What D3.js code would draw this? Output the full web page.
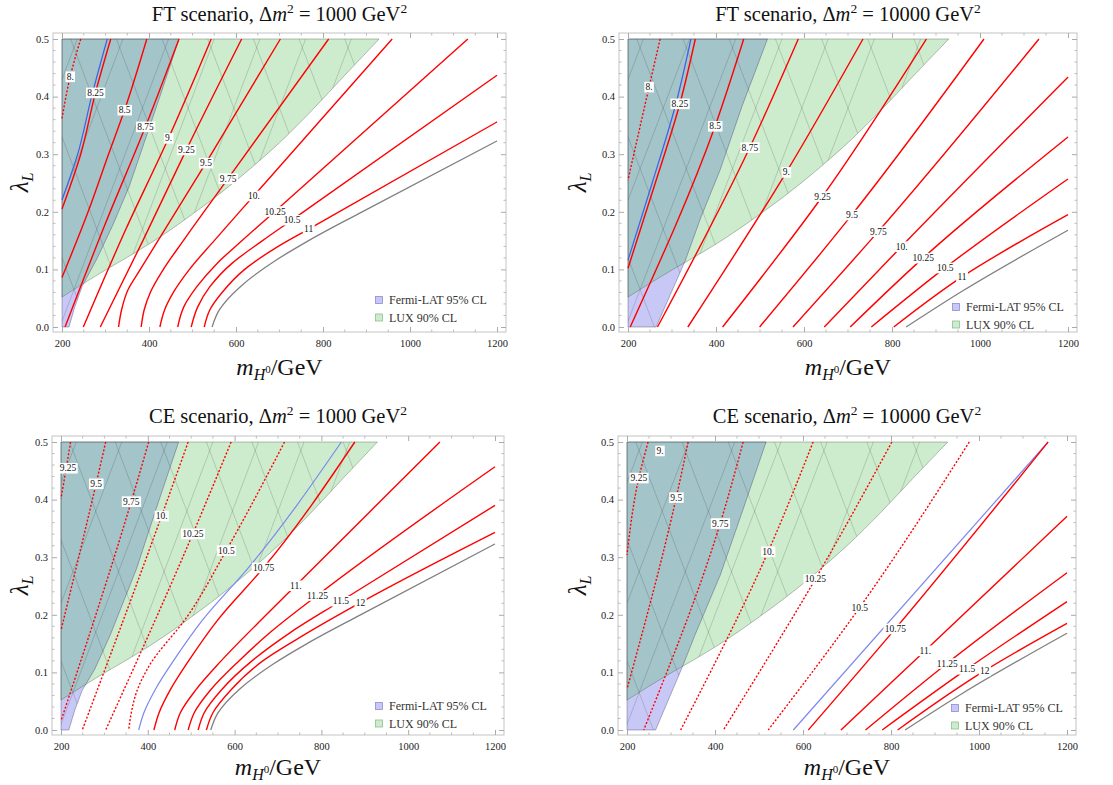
<!DOCTYPE html>
<html>
<head>
<meta charset="utf-8">
<script src="https://cdn.jsdelivr.net/npm/d3@7"></script>
<style>
  body { margin: 0; background: #fff; }
  svg { display: block; }
  text { font-family: "Liberation Serif", "DejaVu Serif", serif; }
</style>
</head>
<body>
<div id="chart"></div>
<script>
// ---- data ----
const xTicks = [200, 400, 600, 800, 1000, 1200]
const yTicks = [0, 0.1, 0.2, 0.3, 0.4, 0.5]
const legendNames = ['Fermi-LAT 95% CL', 'LUX 90% CL']

// LUX lower edge, from the left axis up to the top right corner
const luxBoundary = [[200, .052], [250, .076], [300, .099], [350, .121], [400, .144], [450, .169],
  [500, .196], [550, .224], [600, .254], [650, .286], [700, .32], [777, .378], [850, .437], [929, .5]]

// Fermi-LAT right edge, top to bottom
const fermiFT1000 = [[469, .5], [425, .4], [389, .32], [354, .243], [318, .179], [282, .121], [246, .07], [229, .034], [216, 0]]
const fermiFT10000 = [[517, .5], [459, .383], [409, .272], [366, .191], [330, .115], [264, 0]]
const fermiCE1000 = [[471, .5], [425, .397], [374, .28], [313, .164], [278, .106], [249, .069], [232, .035], [218, 0]]
const fermiCE10000 = [[516, .5], [462, .379], [412, .269], [354, .164], [325, .108], [265, 0]]

// hatch lines of the excluded regions (m at lambda = 0)
const meshUp = [-330, -225, -120, -15, 90, 195, 300, 405, 510, 615, 720, 825]
const meshDown = [260, 365, 470, 575, 680, 785, 890, 995, 1100, 1205, 1310, 1415]
const meshSlope = 500

const greyLow = [[545, 0], [562, .03], [610, .07], [690, .115], [767, .15], [890, .2], [1200, .323]]
const greyHigh = [[832, 0], [961, .063], [1200, .168]]

const ftLow = [
  { lab: '8.', kind: 'dot', at: [219, .435], pts: [[200, .362], [219, .435], [243, .5]] },
  { kind: 'blue', pts: [[200, .221], [236, .3], [268, .4], [304, .5]] },
  { lab: '8.25', kind: 'red', at: [277, .407], pts: [[200, .205], [243, .3], [277, .407], [312, .5]] },
  { lab: '8.5', kind: 'red', at: [344, .377], pts: [[200, .086], [260, .2], [307, .3], [344, .377], [395, .5]] },
  { lab: '8.75', kind: 'red', at: [392, .348], pts: [[207, 0], [300, .18], [392, .348], [469, .5]] },
  { lab: '9.', kind: 'red', at: [445, .328], pts: [[249, 0], [347, .17], [445, .328], [543, .5]] },
  { lab: '9.25', kind: 'red', at: [486, .308], pts: [[288, 0], [386, .15], [486, .308], [613, .5]] },
  { lab: '9.5', kind: 'red', at: [531, .285], pts: [[330, 0], [337, .03], [352, .065], [380, .1], [531, .285], [702, .5]] },
  { lab: '9.75', kind: 'red', at: [582, .258], pts: [[382, 0], [389, .03], [403, .06], [433, .1], [479, .15], [582, .258], [813, .5]] },
  { lab: '10.', kind: 'red', at: [641, .228], pts: [[425, 0], [436, .03], [456, .06], [493, .1], [550, .15], [641, .228], [959, .5]] },
  { lab: '10.25', kind: 'red', at: [690, .201], pts: [[466, 0], [480, .035], [510, .07], [556, .11], [614, .15], [690, .201], [1133, .5]] },
  { lab: '10.5', kind: 'red', at: [729, .186], pts: [[497, 0], [512, .035], [540, .07], [590, .11], [661, .15], [729, .186], [1200, .437]] },
  { lab: '11', kind: 'red', at: [767, .170], pts: [[527, 0], [540, .03], [568, .06], [620, .1], [697, .14], [767, .170], [1200, .356]] },
  { kind: 'grey', pts: greyLow }
]

const ftHigh = [
  { lab: '8.', kind: 'dot', at: [248, .417], pts: [[200, .255], [248, .417], [273, .5]] },
  { kind: 'blue', pts: [[200, .116], [255, .25], [309, .388], [343, .5]] },
  { lab: '8.25', kind: 'red', at: [318, .388], pts: [[200, .102], [262, .25], [318, .388], [353, .5]] },
  { lab: '8.5', kind: 'red', at: [398, .349], pts: [[205, 0], [398, .349], [463, .5]] },
  { lab: '8.75', kind: 'red', at: [477, .312], pts: [[267, 0], [477, .312], [587, .5]] },
  { lab: '9.', kind: 'red', at: [560, .269], pts: [[336, 0], [560, .269], [734, .5]] },
  { lab: '9.25', kind: 'red', at: [642, .227], pts: [[415, 0], [642, .227], [878, .5]] },
  { lab: '9.5', kind: 'red', at: [709, .195], pts: [[499, 0], [709, .195], [1009, .5]] },
  { lab: '9.75', kind: 'red', at: [769, .166], pts: [[575, 0], [769, .166], [1134, .5]] },
  { lab: '10.', kind: 'red', at: [822, .14], pts: [[646, 0], [822, .14], [1200, .434]] },
  { lab: '10.25', kind: 'red', at: [871, .12], pts: [[705, 0], [871, .12], [1200, .33]] },
  { lab: '10.5', kind: 'red', at: [921, .103], pts: [[753, 0], [921, .103], [1200, .257]] },
  { lab: '11', kind: 'red', at: [959, .087], pts: [[804, 0], [959, .087], [1200, .195]] },
  { kind: 'grey', pts: greyHigh }
]

const ceLow = [
  { lab: '9.25', kind: 'dot', at: [216, .455], pts: [[200, .402], [211, .45], [222, .5]] },
  { lab: '9.5', kind: 'dot', at: [281, .428], pts: [[200, .173], [281, .428], [303, .5]] },
  { lab: '9.75', kind: 'dot', at: [362, .397], pts: [[200, .016], [362, .397], [402, .5]] },
  { lab: '10.', kind: 'dot', at: [432, .372], pts: [[249, 0], [432, .372], [493, .5]] },
  { lab: '10.25', kind: 'dot', at: [504, .341], pts: [[303, 0], [504, .341], [592, .5]] },
  { lab: '10.5', kind: 'dot', at: [581, .312], pts: [[356, 0], [362, .03], [376, .07], [402, .11], [490, .196], [581, .312], [715, .5]] },
  { kind: 'blue', pts: [[379, 0], [391, .03], [417, .07], [459, .12], [525, .19], [632, .282], [846, .5]] },
  { lab: '10.75', kind: 'red', at: [667, .282], pts: [[414, 0], [426, .03], [452, .07], [494, .12], [560, .19], [667, .282], [877, .5]] },
  { lab: '11.', kind: 'red', at: [741, .251], pts: [[462, 0], [475, .03], [511, .07], [569, .12], [673, .2], [741, .251], [1073, .5]] },
  { lab: '11.25', kind: 'red', at: [791, .234], pts: [[493, 0], [507, .03], [545, .07], [610, .12], [683, .17], [791, .234], [1200, .457]] },
  { lab: '11.5', kind: 'red', at: [845, .224], pts: [[516, 0], [530, .03], [570, .07], [640, .12], [730, .17], [845, .224], [1200, .39]] },
  { lab: '12', kind: 'red', at: [890, .221], pts: [[535, 0], [550, .03], [592, .07], [665, .12], [760, .165], [890, .221], [1200, .343]] },
  { kind: 'grey', pts: greyLow }
]

const ceHigh = [
  { lab: '9.', kind: 'none', at: [275, .485] },
  { lab: '9.25', kind: 'dot', at: [227, .438], pts: [[200, .304], [227, .438], [248, .5]] },
  { lab: '9.5', kind: 'dot', at: [312, .404], pts: [[200, .071], [312, .404], [339, .5]] },
  { lab: '9.75', kind: 'dot', at: [412, .359], pts: [[238, 0], [412, .359], [464, .5]] },
  { lab: '10.', kind: 'dot', at: [521, .31], pts: [[322, 0], [521, .31], [623, .5]] },
  { lab: '10.25', kind: 'dot', at: [628, .262], pts: [[419, 0], [628, .262], [802, .5]] },
  { lab: '10.5', kind: 'dot', at: [729, .213], pts: [[521, 0], [729, .213], [978, .5]] },
  { kind: 'blue', pts: [[578, 0], [1157, .5]] },
  { lab: '10.75', kind: 'red', at: [810, .176], pts: [[612, 0], [810, .176], [1157, .5]] },
  { lab: '11.', kind: 'red', at: [878, .138], pts: [[686, 0], [878, .138], [1200, .371]] },
  { lab: '11.25', kind: 'red', at: [928, .116], pts: [[742, 0], [928, .116], [1200, .273]] },
  { lab: '11.5', kind: 'red', at: [973, .106], pts: [[780, 0], [973, .106], [1200, .223]] },
  { lab: '12', kind: 'red', at: [1013, .103], pts: [[815, 0], [1013, .103], [1200, .185]] },
  { kind: 'grey', pts: greyHigh }
]

// ---- layout ----
const panels = [
  { scen: 'FT', dm: '1000', contours: ftLow, fermi: fermiFT1000, blue: '#3f5fe6',
    x0: 62, x1: 497, yt: 39, yb: 327, titleY: 21, xlabY: 375, ylabX: 28, legend: [379, 300] },
  { scen: 'FT', dm: '10000', contours: ftHigh, fermi: fermiFT10000, blue: '#3f5fe6',
    x0: 628, x1: 1068, yt: 39, yb: 327, titleY: 21, xlabY: 375, ylabX: 586, legend: [956, 307] },
  { scen: 'CE', dm: '1000', contours: ceLow, fermi: fermiCE1000, blue: '#7b88ee',
    x0: 61, x1: 495, yt: 442, yb: 730, titleY: 423, xlabY: 775, ylabX: 28, legend: [379, 706] },
  { scen: 'CE', dm: '10000', contours: ceHigh, fermi: fermiCE10000, blue: '#7b88ee',
    x0: 627, x1: 1067, yt: 442, yb: 730, titleY: 423, xlabY: 775, ylabX: 586, legend: [955, 708] }
]

const luxFill = '#cdeccd'
const fermiFill = '#c8c8f7'
const bothFill = '#a3c4c9'

const svg = d3.select('#chart')
  .append('svg')
  .attr('width', 1113)
  .attr('height', 785)

panels.forEach((p, i) => drawPanel(p, i))

function drawPanel(p, i) {
  const x = d3.scaleLinear().domain([200, 1200]).range([p.x0, p.x1])
  const y = d3.scaleLinear().domain([0, 0.5]).range([p.yb, p.yt])
  const line = d3.line().x(d => x(d[0])).y(d => y(d[1]))
  const smooth = d3.line().x(d => x(d[0])).y(d => y(d[1])).curve(d3.curveMonotoneY)
  const smoothX = d3.line().x(d => x(d[0])).y(d => y(d[1])).curve(d3.curveMonotoneX)
  const g = svg.append('g')

  const luxEnd = luxBoundary[luxBoundary.length - 1]
  const luxPath = smoothX(luxBoundary) + `L${x(200)},${y(luxEnd[1])}Z`
  const fermiPoly = [[200, 0.5]].concat(p.fermi, [[200, 0]])
  const fermiPath = line(fermiPoly) + 'Z'

  // Regions
  const defs = g.append('defs')
  defs.append('clipPath').attr('id', 'lux' + i)
    .append('path').attr('d', luxPath)
  const uni = defs.append('clipPath').attr('id', 'union' + i)
  uni.append('path').attr('d', luxPath)
  uni.append('path').attr('d', fermiPath)

  g.append('path').attr('d', luxPath).attr('fill', luxFill)
  g.append('path').attr('d', fermiPath).attr('fill', fermiFill)
  g.append('path').attr('d', fermiPath).attr('fill', bothFill)
    .attr('clip-path', `url(#lux${i})`)

  const mesh = g.append('g').attr('clip-path', `url(#union${i})`)
    .attr('stroke', 'rgba(40,40,40,0.3)').attr('stroke-width', 0.6).attr('fill', 'none')
  meshUp.forEach(a => mesh.append('path').attr('d', line([[a, 0], [a + meshSlope * 0.5, 0.5]])))
  meshDown.forEach(b => mesh.append('path').attr('d', line([[b, 0], [b - meshSlope * 0.5, 0.5]])))

  g.append('path').attr('d', luxPath).attr('fill', 'none')
    .attr('stroke', 'rgba(70,90,70,0.55)').attr('stroke-width', 0.7)
  g.append('path').attr('d', fermiPath).attr('fill', 'none')
    .attr('stroke', 'rgba(60,60,90,0.55)').attr('stroke-width', 0.7)

  // Contours
  p.contours.forEach(c => {
    if (!c.pts) return
    const pts = c.pts.slice().sort((a, b) => b[1] - a[1])
    const path = g.append('path').attr('d', smooth(pts)).attr('fill', 'none')
    if (c.kind === 'red') path.attr('stroke', '#ff0000').attr('stroke-width', 1.4)
    if (c.kind === 'dot') path.attr('stroke', '#ff0000').attr('stroke-width', 1.4).attr('stroke-dasharray', '2,1.8')
    if (c.kind === 'blue') path.attr('stroke', p.blue).attr('stroke-width', 1.2)
    if (c.kind === 'grey') path.attr('stroke', '#808080').attr('stroke-width', 1.3)
  })

  // Contour labels
  p.contours.forEach(c => {
    if (!c.lab) return
    const lg = g.append('g')
    const t = lg.append('text')
      .attr('x', x(c.at[0])).attr('y', y(c.at[1]))
      .attr('text-anchor', 'middle').attr('dy', '0.35em')
      .attr('font-size', 9.5).attr('fill', '#111')
      .text(c.lab)
    const bb = t.node().getBBox()
    lg.insert('rect', 'text')
      .attr('x', bb.x - 1.2).attr('y', bb.y - 0.3)
      .attr('width', bb.width + 2.4).attr('height', bb.height + 0.6)
      .attr('fill', '#fff')
  })

  // Frame
  const fx0 = p.x0 - 9, fx1 = p.x1 + 9, fy0 = p.yt - 6, fy1 = p.yb + 5
  g.append('rect').attr('x', fx0).attr('y', fy0)
    .attr('width', fx1 - fx0).attr('height', fy1 - fy0)
    .attr('fill', 'none').attr('stroke', '#c4c4c4').attr('stroke-width', 1)

  const axisStyle = sel => {
    sel.select('.domain').remove()
    sel.selectAll('line').attr('stroke', '#aaa')
    sel.selectAll('text').attr('font-family', '"Liberation Serif", serif').attr('font-size', 10.5).attr('fill', '#222')
  }
  g.append('g').attr('transform', `translate(0,${fy1})`)
    .call(d3.axisBottom(x).tickValues(xTicks).tickSize(-5).tickPadding(7.5).tickFormat(d3.format('d')))
    .call(axisStyle)
  g.append('g').attr('transform', `translate(0,${fy0})`)
    .call(d3.axisTop(x).tickValues(xTicks).tickSize(-5).tickFormat(''))
    .call(axisStyle)
  g.append('g').attr('transform', `translate(${fx0},0)`)
    .call(d3.axisLeft(y).tickValues(yTicks).tickSize(-5).tickPadding(4).tickFormat(d3.format('.1f')))
    .call(axisStyle)
  g.append('g').attr('transform', `translate(${fx1},0)`)
    .call(d3.axisRight(y).tickValues(yTicks).tickSize(-5).tickFormat(''))
    .call(axisStyle)

  // minor ticks
  const minor = g.append('g').attr('stroke', '#bbb').attr('stroke-width', 1)
  d3.range(200, 1201, 50).filter(v => v % 200 !== 0).forEach(v => {
    minor.append('line').attr('x1', x(v)).attr('x2', x(v)).attr('y1', fy1).attr('y2', fy1 - 2.5)
    minor.append('line').attr('x1', x(v)).attr('x2', x(v)).attr('y1', fy0).attr('y2', fy0 + 2.5)
  })
  d3.range(0, 51, 2).filter(v => v % 10 !== 0).forEach(v => {
    minor.append('line').attr('x1', fx0).attr('x2', fx0 + 2.5).attr('y1', y(v / 100)).attr('y2', y(v / 100))
    minor.append('line').attr('x1', fx1).attr('x2', fx1 - 2.5).attr('y1', y(v / 100)).attr('y2', y(v / 100))
  })

  // Legend
  const legColors = [[fermiFill, '#8c8cd6'], [luxFill, '#8fbf8f']]
  legendNames.forEach((name, k) => {
    const ly = p.legend[1] + k * 17.5
    g.append('rect').attr('x', p.legend[0] - 3.5).attr('y', ly - 3.5)
      .attr('width', 7).attr('height', 7)
      .attr('fill', legColors[k][0]).attr('stroke', legColors[k][1]).attr('stroke-width', 0.8)
    g.append('text').attr('x', p.legend[0] + 10).attr('y', ly + 4.2)
      .attr('font-size', 12).attr('fill', '#333').text(name)
  })

  // Title
  const cx = (fx0 + fx1) / 2
  const title = g.append('text').attr('x', cx).attr('y', p.titleY)
    .attr('text-anchor', 'middle').attr('font-size', 20.5).attr('fill', '#111')
  title.append('tspan').text(`${p.scen} scenario, Δ`)
  title.append('tspan').attr('font-style', 'italic').text('m')
  title.append('tspan').attr('dy', -8).attr('font-size', 13.5).text('2')
  title.append('tspan').attr('dy', 8).text(` = ${p.dm} GeV`)
  title.append('tspan').attr('dy', -8).attr('font-size', 13.5).text('2')

  // Axis titles
  const xl = g.append('text').attr('x', cx).attr('y', p.xlabY)
    .attr('text-anchor', 'middle').attr('font-size', 24).attr('fill', '#111')
  xl.append('tspan').attr('font-style', 'italic').text('m')
  xl.append('tspan').attr('font-style', 'italic').attr('font-size', 16).attr('dy', 5).text('H')
  xl.append('tspan').attr('font-size', 11).attr('dy', -7).text('0')
  xl.append('tspan').attr('dy', 2).text('/GeV')

  const yl = g.append('text')
    .attr('transform', `translate(${p.ylabX},${(fy0 + fy1) / 2}) rotate(-90)`)
    .attr('text-anchor', 'middle').attr('font-size', 25).attr('fill', '#111')
  yl.append('tspan').attr('font-style', 'italic').text('λ')
  yl.append('tspan').attr('font-style', 'italic').attr('font-size', 16).attr('dy', 5).text('L')
}
</script>
</body>
</html>
